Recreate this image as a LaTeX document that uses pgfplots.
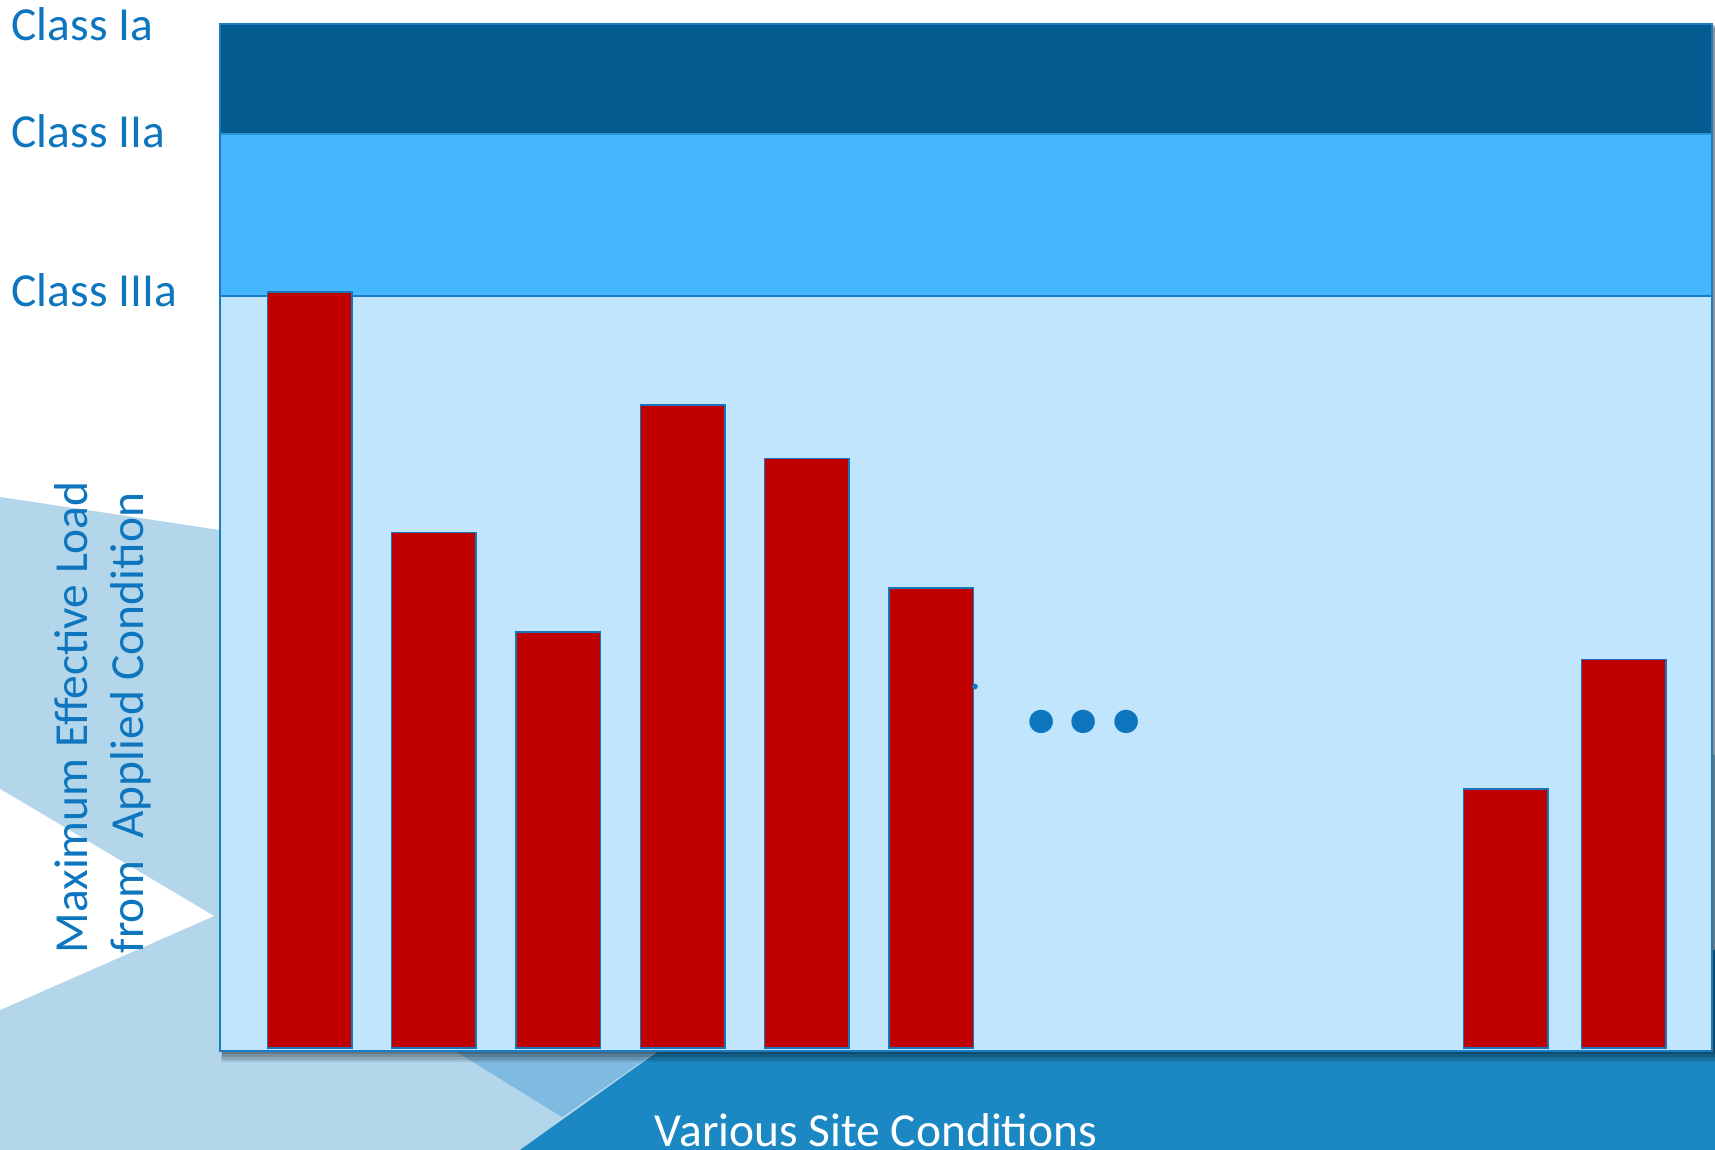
\documentclass[border=0pt]{standalone}
\usepackage{pgfplots}
\pgfplotsset{compat=1.18}
\usepackage{fontspec}
\setmainfont{Carlito}

\definecolor{bgLight}{HTML}{B4D6EA}
\definecolor{bgMid}{HTML}{7FBAE0}
\definecolor{bgDark}{HTML}{1B88C3}
\definecolor{bandDark}{HTML}{035B8F}
\definecolor{bandMid}{HTML}{45B7FE}
\definecolor{bandLight}{HTML}{C1E5FC}
\definecolor{barRed}{HTML}{C00000}
\definecolor{barEdge}{HTML}{1A74BA}
\definecolor{frameBlue}{HTML}{1A7DC3}
\definecolor{textBlue}{HTML}{0E76BE}

\begin{document}
\begin{tikzpicture}
\useasboundingbox (0,0) rectangle (171.5mm,115mm);

% slide background (units of 0.1 mm)
\begin{scope}[x=0.1mm,y=0.1mm]
\clip (0,0) rectangle (1715,1150);
\fill[white] (0,0) rectangle (1715,1150);
\fill[bgLight] (0,0) -- (1715,0) -- (1715,395) -- (0,653) -- cycle;
\fill[white] (0,361) -- (214,234) -- (0,140) -- cycle;
\fill[bgMid] (562,33) -- (400,133) -- (706,133) -- cycle;
\fill[bgDark] (520,0) -- (1715,0) -- (1715,200) -- (800,200) -- cycle;
% soft shadow under the chart panel
\fill[black,opacity=0.10] (221,88) rectangle (1718,1122);
\fill[black,opacity=0.12] (222,90) rectangle (1717,1123);
\fill[black,opacity=0.14] (222,93) rectangle (1716,1124);
\fill[black,opacity=0.16] (222,96) rectangle (1715,1125);
\end{scope}

\begin{axis}[
  at={(22mm,9.9mm)}, anchor=south west,
  scale only axis,
  width=149.2mm, height=102.7mm,
  xmin=0.28, xmax=12.28,
  ymin=-0.3, ymax=99.7,
  xtick=\empty, ytick=\empty,
  axis line style={draw=frameBlue, line width=0.2mm},
  axis on top,
]
% class bands
\addplot[fill=bandLight, draw=none] coordinates {(0.28,-0.3) (12.28,-0.3) (12.28,73.2) (0.28,73.2)} -- cycle;
\addplot[fill=bandMid, draw=none] coordinates {(0.28,73.2) (12.28,73.2) (12.28,89.0) (0.28,89.0)} -- cycle;
\addplot[fill=bandDark, draw=none] coordinates {(0.28,89.0) (12.28,89.0) (12.28,99.7) (0.28,99.7)} -- cycle;
\addplot[frameBlue, line width=0.2mm] coordinates {(0.28,73.2) (12.28,73.2)};
\addplot[frameBlue!60!bandMid, line width=0.15mm] coordinates {(0.28,89.0) (12.28,89.0)};

% site conditions
\addplot[ybar, bar width=0.68, fill=barRed, draw=barEdge, line width=0.15mm]
  coordinates {(1,73.6) (2,50.2) (3,40.5) (4,62.6) (5,57.4) (6,44.8) (10.62,25.2) (11.57,37.8)};

% ellipsis between the groups
\node[anchor=base, text=textBlue, font=\fontsize{45pt}{45pt}\selectfont\bfseries]
  at (axis cs:7.23,30.7) {...};
\node[anchor=base, text=textBlue, font=\fontsize{13.5pt}{16pt}\selectfont]
  at (axis cs:6.36,34.9) {.};
\end{axis}

\begin{scope}[x=0.1mm,y=0.1mm]
% class labels
\begin{scope}[every node/.style={anchor=base west, text=textBlue, inner sep=0pt, font=\fontsize{13.5pt}{16pt}\selectfont}]
\node at (11,1109) {Class Ia};
\node at (11,1002) {Class IIa};
\node at (11,843) {Class IIIa};
\end{scope}
% axis titles
\begin{scope}[every node/.style={inner sep=0pt, font=\fontsize{13.5pt}{16pt}\selectfont}]
\node[rotate=90, anchor=base west, text=textBlue] at (87,196) {Maximum Effective Load};
\node[rotate=90, anchor=base west, text=textBlue] at (143,196) {from\ \ Applied Condition};
\node[anchor=base, text=white] at (876,3) {Various Site Conditions};
\end{scope}
\end{scope}
\end{tikzpicture}
\end{document}
